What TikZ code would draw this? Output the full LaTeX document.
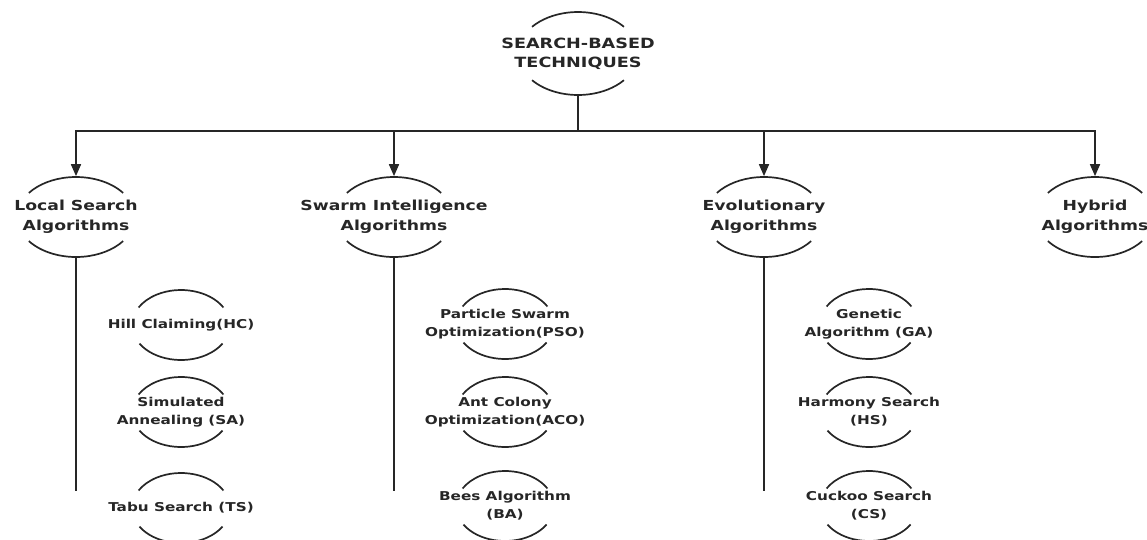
\documentclass[tikz,border=0pt]{standalone}
\usepackage{fontspec}
\newfontfamily\diafont{DejaVu Sans}[FakeStretch=1.25]
\usetikzlibrary{positioning,arrows.meta}

\begin{document}
\begin{tikzpicture}[x=1pt,y=1pt,on grid,line width=1.7pt,draw=black!85,text=black!85,
  root/.style={inner sep=0pt,minimum height=83pt,align=center,font=\diafont\bfseries\fontsize{14.1}{19}\selectfont},
  family/.style={inner sep=0pt,minimum height=80pt,align=center,font=\diafont\bfseries\fontsize{13.8}{20}\selectfont},
  method/.style={inner sep=0pt,minimum height=70pt,align=center,font=\diafont\bfseries\fontsize{12.2}{18}\selectfont},
  arr/.style={-{Triangle[width=10pt,length=12pt]}}]
\useasboundingbox (0,0) rectangle (1147,-539);
\node[root] (SBT) at (578,-53.5) {SEARCH-BASED\\TECHNIQUES};
\node[family] (LS) at (76,-217) {Local Search\\Algorithms};
\node[family] (SI) [right=318pt of LS] {Swarm Intelligence\\Algorithms};
\node[family] (EA) [right=370pt of SI] {Evolutionary\\Algorithms};
\node[family] (HY) [right=331pt of EA] {Hybrid\\Algorithms};
% methods of each family
\node[method] (HC) [below right=108pt and 105pt of LS] {Hill Claiming(HC)};
\node[method] (SA) [below=87pt of HC] {Simulated\\Annealing (SA)};
\node[method] (TS) [below=96pt of SA] {Tabu Search (TS)};
\node[method] (PSO) [below right=107pt and 111pt of SI] {Particle Swarm\\Optimization(PSO)};
\node[method] (ACO) [below=88pt of PSO] {Ant Colony\\Optimization(ACO)};
\node[method] (BA) [below=94pt of ACO] {Bees Algorithm\\(BA)};
\node[method] (GA) [below right=107pt and 105pt of EA] {Genetic\\Algorithm (GA)};
\node[method] (HS) [below=88pt of GA] {Harmony Search\\(HS)};
\node[method] (CS) [below=94pt of HS] {Cuckoo Search\\(CS)};
% open ellipses
\draw (SBT.center) ++(40:60pt and 41.5pt) arc[start angle=40,end angle=140,x radius=60pt,y radius=41.5pt];
\draw (SBT.center) ++(220:60pt and 41.5pt) arc[start angle=220,end angle=320,x radius=60pt,y radius=41.5pt];
\foreach \n in {LS,SI,EA,HY} {
  \draw (\n.center) ++(37:59pt and 40pt) arc[start angle=37,end angle=143,x radius=59pt,y radius=40pt];
  \draw (\n.center) ++(217:59pt and 40pt) arc[start angle=217,end angle=323,x radius=59pt,y radius=40pt];
}
\foreach \n in {HC,SA,TS,PSO,ACO,BA,GA,HS,CS} {
  \draw (\n.center) ++(30:49pt and 35pt) arc[start angle=30,end angle=150,x radius=49pt,y radius=35pt];
  \draw (\n.center) ++(212:49pt and 35pt) arc[start angle=212,end angle=328,x radius=49pt,y radius=35pt];
}
% tree lines
\coordinate (bar) at (578,-131);
\draw[line width=2.8pt] (SBT.south) -- (bar);
\draw[line cap=rect] (bar -| LS) -- (bar -| HY);
\foreach \n in {LS,SI,EA,HY}
  \draw[arr] (bar -| \n) -- (\n.north);
\coordinate[below=233pt of LS.south] (LSend);
\coordinate[below=233pt of SI.south] (SIend);
\coordinate[below=233pt of EA.south] (EAend);
\draw (LS.south) -- (LSend);
\draw (SI.south) -- (SIend);
\draw (EA.south) -- (EAend);
\end{tikzpicture}
\end{document}
